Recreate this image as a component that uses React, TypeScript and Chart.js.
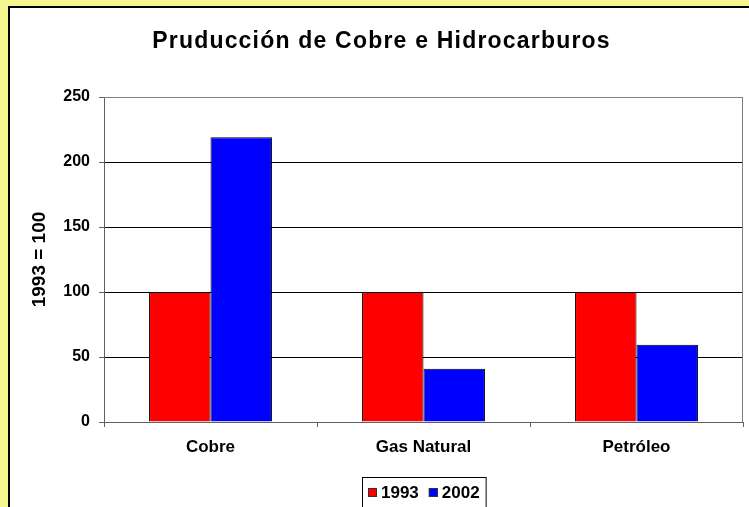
import React, { useEffect, useRef } from 'react';
import { Chart, registerables } from 'chart.js';

Chart.register(...registerables);

const TITLE = 'Pruducción de Cobre e Hidrocarburos';
const Y_TITLE = '1993 = 100';
const categories = ['Cobre', 'Gas Natural', 'Petróleo'];
const seriesLabels = ['1993', '2002'];
const values1993 = [100, 100, 100];
const values2002 = [219, 41, 59.5];
const yTicks = [0, 50, 100, 150, 200, 250];
const seriesColors = ['#FF0000', '#0000FF'];

const FONT = '"Liberation Sans", Arial, Helvetica, sans-serif';
const PAGE_YELLOW = '#F6F68E';

export default function App() {
  const ref = useRef<HTMLCanvasElement | null>(null);

  useEffect(() => {
    const canvas = ref.current;
    if (!canvas) return;

    const backgroundPlugin = {
      id: 'pageBackground',
      beforeDraw(chart: any) {
        const ctx = chart.ctx;
        const w = chart.width;
        const h = chart.height;
        ctx.save();
        ctx.fillStyle = PAGE_YELLOW;
        ctx.fillRect(0, 0, w, h);
        ctx.fillStyle = '#FFFFFF';
        ctx.fillRect(9, 7, w, h);
        ctx.strokeStyle = '#000000';
        ctx.lineWidth = 2;
        ctx.beginPath();
        ctx.moveTo(9, h + 5);
        ctx.lineTo(9, 7);
        ctx.lineTo(w + 5, 7);
        ctx.stroke();
        ctx.restore();
      },
    };

    const framePlugin = {
      id: 'plotFrame',
      afterDatasetsDraw(chart: any) {
        const { ctx, chartArea } = chart;
        ctx.save();
        ctx.strokeStyle = '#808080';
        ctx.lineWidth = 1;
        ctx.beginPath();
        ctx.moveTo(chartArea.left, Math.round(chartArea.top) + 0.5);
        ctx.lineTo(Math.round(chartArea.right) - 0.5, Math.round(chartArea.top) + 0.5);
        ctx.lineTo(Math.round(chartArea.right) - 0.5, chartArea.bottom);
        ctx.stroke();
        ctx.restore();
      },
    };

    const titlePlugin = {
      id: 'excelTitle',
      afterDraw(chart: any) {
        const ctx = chart.ctx;
        ctx.save();
        ctx.font = `bold 23px ${FONT}`;
        ctx.fillStyle = '#000000';
        ctx.textAlign = 'center';
        ctx.textBaseline = 'alphabetic';
        try {
          (ctx as any).letterSpacing = '1.2px';
        } catch (e) {
          /* ignore */
        }
        ctx.fillText(TITLE, chart.width / 2 + 7, 48);
        ctx.restore();
      },
    };

    const legendPlugin = {
      id: 'boxedLegend',
      afterDraw(chart: any) {
        const { ctx, chartArea } = chart;
        const datasets = chart.data.datasets;
        ctx.save();
        ctx.font = `bold 17px ${FONT}`;
        const sq = 9;
        const gapText = 4;
        const gapItem = 10;
        const pad = 6;
        const widths = datasets.map((d: any) => ctx.measureText(String(d.label)).width);
        let total = pad * 2;
        widths.forEach((w: number, i: number) => {
          total += sq + gapText + w + (i > 0 ? gapItem : 0);
        });
        const cx = (chartArea.left + chartArea.right) / 2;
        const left = Math.round(cx - total / 2);
        const top = 477;
        ctx.strokeStyle = '#000000';
        ctx.lineWidth = 1;
        ctx.strokeRect(left + 0.5, top + 0.5, total, 60);
        let x = left + pad;
        const midY = 493;
        datasets.forEach((d: any, i: number) => {
          ctx.fillStyle = d.backgroundColor;
          ctx.fillRect(x, midY - 5, sq, sq);
          ctx.strokeStyle = '#333333';
          ctx.strokeRect(x + 0.5, midY - 5 + 0.5, sq - 1, sq - 1);
          ctx.fillStyle = '#000000';
          ctx.textAlign = 'left';
          ctx.textBaseline = 'middle';
          ctx.fillText(String(d.label), x + sq + gapText, midY);
          x += sq + gapText + widths[i] + gapItem;
        });
        ctx.restore();
      },
    };

    const chart = new Chart(canvas, {
      type: 'bar',
      data: {
        labels: categories,
        datasets: [
          {
            label: seriesLabels[0],
            data: values1993,
            backgroundColor: seriesColors[0],
            borderColor: '#000000',
            borderWidth: 1,
            categoryPercentage: 0.577,
            barPercentage: 1,
          },
          {
            label: seriesLabels[1],
            data: values2002,
            backgroundColor: seriesColors[1],
            borderColor: '#000000',
            borderWidth: 1,
            categoryPercentage: 0.577,
            barPercentage: 1,
          },
        ],
      },
      options: {
        responsive: false,
        animation: false,
        devicePixelRatio: 1,
        layout: { padding: { top: 97, right: 6, left: 0, bottom: 0 } },
        plugins: {
          legend: { display: false },
          title: { display: false },
          tooltip: { enabled: false },
        },
        scales: {
          x: {
            offset: true,
            grid: {
              offset: true,
              drawOnChartArea: false,
              drawTicks: true,
              tickLength: 5,
              color: '#808080',
              tickColor: '#606060',
            },
            border: { color: '#606060', width: 1 },
            ticks: {
              font: { family: FONT, size: 17, weight: 'bold' },
              color: '#000000',
              padding: 10,
              maxRotation: 0,
              autoSkip: false,
            },
            afterFit: (scale: any) => {
              scale.height = 85;
            },
          },
          y: {
            min: 0,
            max: 250,
            afterBuildTicks: (scale: any) => {
              scale.ticks = yTicks.map((v) => ({ value: v }));
            },
            ticks: {
              font: { family: FONT, size: 16, weight: 'bold' },
              color: '#000000',
              padding: 9,
            },
            grid: {
              color: (ctx: any) =>
                ctx.tick && ctx.tick.value === 250 ? '#808080' : '#000000',
              tickLength: 5,
              tickColor: '#606060',
            },
            border: { color: '#606060', width: 1 },
            title: {
              display: true,
              text: Y_TITLE,
              font: { family: FONT, size: 19, weight: 'bold' },
              color: '#000000',
              padding: { top: 28, bottom: 0 },
            },
            afterFit: (scale: any) => {
              scale.width = 104;
            },
          },
        },
      },
      plugins: [backgroundPlugin, framePlugin, titlePlugin, legendPlugin],
    } as any);

    return () => {
      chart.destroy();
    };
  }, []);

  return (
    <div style={{ position: 'fixed', left: 0, top: 0, width: 749, height: 507, background: PAGE_YELLOW }}>
      <canvas ref={ref} width={749} height={507} style={{ display: 'block', width: 749, height: 507 }} />
    </div>
  );
}
